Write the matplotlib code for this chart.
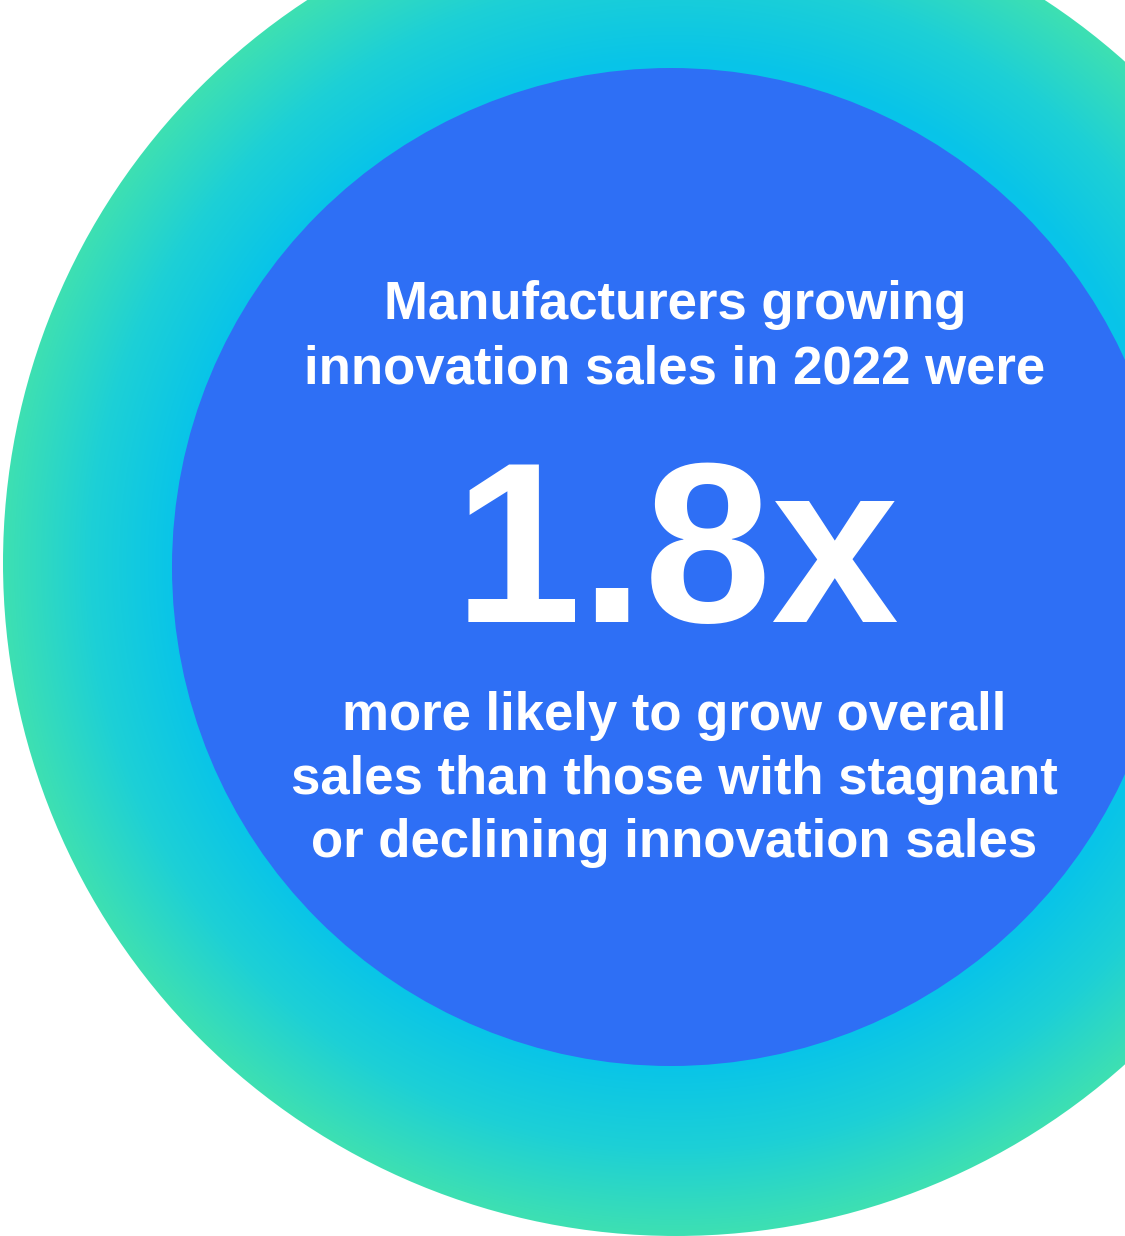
import numpy as np
import matplotlib
matplotlib.use("Agg")
import matplotlib.pyplot as plt
from matplotlib.patches import Circle
from matplotlib.colors import LinearSegmentedColormap

# text content
headline = ["Manufacturers growing", "innovation sales in 2022 were"]
multiplier = 1.8
footline = ["more likely to grow overall",
            "sales than those with stagnant",
            "or declining innovation sales"]

W, H = 1125, 1236
fig = plt.figure(figsize=(W / 100, H / 100), dpi=100)
ax = fig.add_axes([0, 0, 1, 1])
ax.set_xlim(0, W)
ax.set_ylim(H, 0)
ax.set_aspect("equal")
ax.axis("off")

# outer ring: radial gradient from cyan (inside) to mint green (edge)
ocx, ocy, orad = 676, 563, 673
icx, icy, irad = 671, 567, 499

ring_cmap = LinearSegmentedColormap.from_list(
    "ring", ["#08c4e9", "#1dd0d6", "#3ee0b2"])
yy, xx = np.mgrid[0:H, 0:W]
dist = np.hypot(xx + 0.5 - ocx, yy + 0.5 - ocy)
t = np.clip((dist - irad) / (orad - irad), 0, 1)
img = ax.imshow(t, cmap=ring_cmap, extent=(0, W, H, 0), origin="upper",
                interpolation="bilinear", zorder=1)
clip = Circle((ocx, ocy), orad, transform=ax.transData)
img.set_clip_path(clip)

# inner blue disc
ax.add_patch(Circle((icx, icy), irad, color="#2e6ff5", zorder=2, lw=0))

font = dict(family="Liberation Sans", weight="bold", color="white",
            ha="center", va="baseline", zorder=3)

for y, line in zip([319, 383], headline):
    ax.text(675, y, line, fontsize=38, **font)

ax.text(676, 622, f"{multiplier:g}x", fontsize=165, **font)

for y, line in zip([730, 794, 857], footline):
    ax.text(674, y, line, fontsize=38, **font)

fig.savefig("out.png", dpi=100)
